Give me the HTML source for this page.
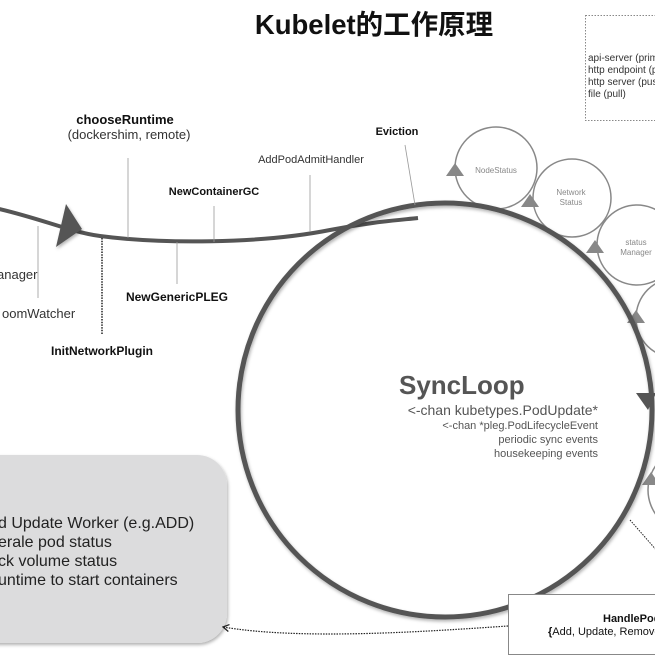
<!DOCTYPE html>
<html><head><meta charset="utf-8"><style>
html,body{margin:0;padding:0;background:#fff;}
svg{display:block;font-family:"Liberation Sans","Noto Sans CJK SC",sans-serif;}
</style></head><body>
<svg width="655" height="655" viewBox="0 0 655 655" xmlns="http://www.w3.org/2000/svg">
<defs>
<filter id="sh" x="-10%" y="-10%" width="120%" height="120%"><feDropShadow dx="1" dy="2" stdDeviation="1.5" flood-color="#000" flood-opacity="0.3"/></filter>
<marker id="ah" markerWidth="8" markerHeight="8" refX="7" refY="4" orient="auto" markerUnits="userSpaceOnUse"><path d="M1,0.5 L7,4 L1,7.5" fill="none" stroke="#222" stroke-width="1.3"/></marker>
</defs>
<text x="374" y="34" font-size="27.5" font-weight="bold" text-anchor="middle" fill="#111">Kubelet的工作原理</text>
<rect x="585.5" y="15.5" width="80" height="105" fill="none" stroke="#888" stroke-dasharray="1.5,1.5"/>
<g font-size="10" fill="#333"><text x="588" y="61">api-server (primary)</text><text x="588" y="73">http endpoint (pull)</text><text x="588" y="85">http server (push)</text><text x="588" y="97">file (pull)</text></g>
<rect x="-40" y="455" width="267" height="188" rx="30" fill="#dcdcdd" filter="url(#sh)"/>
<g font-size="16" fill="#222"><text x="-2" y="528">d Update Worker (e.g.ADD)</text><text x="-2" y="547">erale pod status</text><text x="-2" y="566">ck volume status</text><text x="-2" y="585">untime to start containers</text></g>
<g fill="#fff" stroke="#888" stroke-width="1.5">
<circle cx="496" cy="168" r="41"/><circle cx="572" cy="198" r="39"/><circle cx="637" cy="245" r="40"/><circle cx="676" cy="318" r="40"/><circle cx="690" cy="490" r="42"/>
</g>
<g font-size="8" fill="#888" text-anchor="middle"><text x="496" y="173">NodeStatus</text><text x="571" y="195">Network</text><text x="571" y="205">Status</text><text x="636" y="245">status</text><text x="636" y="255">Manager</text></g>
<g fill="#888"><path d="M446,176 L464,176 L455,163Z"/><path d="M521,207 L539,207 L530,194Z"/><path d="M586,253 L604,253 L595,240Z"/><path d="M627,323 L645,323 L636,310Z"/><path d="M642,485 L660,485 L651,472Z"/></g>
<path d="M-5,208 C40,218 70,232 100,236 C160,244 260,244 330,230 C370,222 400,220 418,218" fill="none" stroke="#555" stroke-width="4"/>
<path d="M56,247 L82,229 L66,204Z" fill="#555" filter="url(#sh)"/>
<circle cx="445" cy="410" r="207" fill="none" stroke="#555" stroke-width="5" filter="url(#sh)"/>
<path d="M636,393 L656,393 L648,410Z" fill="#555"/>
<g stroke="#999" stroke-width="0.8" fill="none">
<line x1="38" y1="226" x2="38" y2="298"/><line x1="128" y1="158" x2="128" y2="238"/><line x1="214" y1="206" x2="214" y2="242"/><line x1="177" y1="242" x2="177" y2="284"/><line x1="310" y1="175" x2="310" y2="232"/><line x1="405" y1="145" x2="415" y2="205"/>
</g>
<line x1="102" y1="238" x2="102" y2="334" stroke="#222" stroke-width="1.5" stroke-dasharray="1.5,1.2"/>
<g font-size="13" fill="#111">
<text x="125" y="124" font-weight="bold" text-anchor="middle">chooseRuntime</text>
<text x="129" y="139" fill="#333" text-anchor="middle">(dockershim, remote)</text>
<text x="214" y="195" font-size="11" font-weight="bold" text-anchor="middle">NewContainerGC</text>
<text x="311" y="163" font-size="11" fill="#333" text-anchor="middle">AddPodAdmitHandler</text>
<text x="397" y="135" font-size="11" font-weight="bold" text-anchor="middle">Eviction</text>
<text x="177" y="301" font-size="12" font-weight="bold" text-anchor="middle">NewGenericPLEG</text>
<text x="102" y="355" font-size="12" font-weight="bold" text-anchor="middle">InitNetworkPlugin</text>
<text x="-3" y="279" fill="#333">anager</text>
<text x="2" y="318" fill="#333">oomWatcher</text>
</g>
<g fill="#555">
<text x="399" y="394" font-size="26" font-weight="bold">SyncLoop</text>
<text x="598" y="415" font-size="14" text-anchor="end">&lt;-chan kubetypes.PodUpdate*</text>
<text x="598" y="429" font-size="11" text-anchor="end">&lt;-chan *pleg.PodLifecycleEvent</text>
<text x="598" y="443" font-size="11" text-anchor="end">periodic sync events</text>
<text x="598" y="457" font-size="11" text-anchor="end">housekeeping events</text>
</g>
<line x1="630" y1="520" x2="665" y2="560" stroke="#222" stroke-width="1" stroke-dasharray="1.5,1.2"/>
<rect x="508.5" y="594.5" width="160" height="60" fill="#fff" stroke="#888"/>
<text x="603" y="622" font-size="11" font-weight="bold" fill="#111">HandlePods</text>
<text x="548" y="635" font-size="11" fill="#111"><tspan font-weight="bold">{</tspan>Add, Update, Remove}</text>
<path d="M508,626 C420,632 300,640 223,627" fill="none" stroke="#222" stroke-width="1.2" stroke-dasharray="1.5,1.2" marker-end="url(#ah)"/>
</svg>
</body></html>
